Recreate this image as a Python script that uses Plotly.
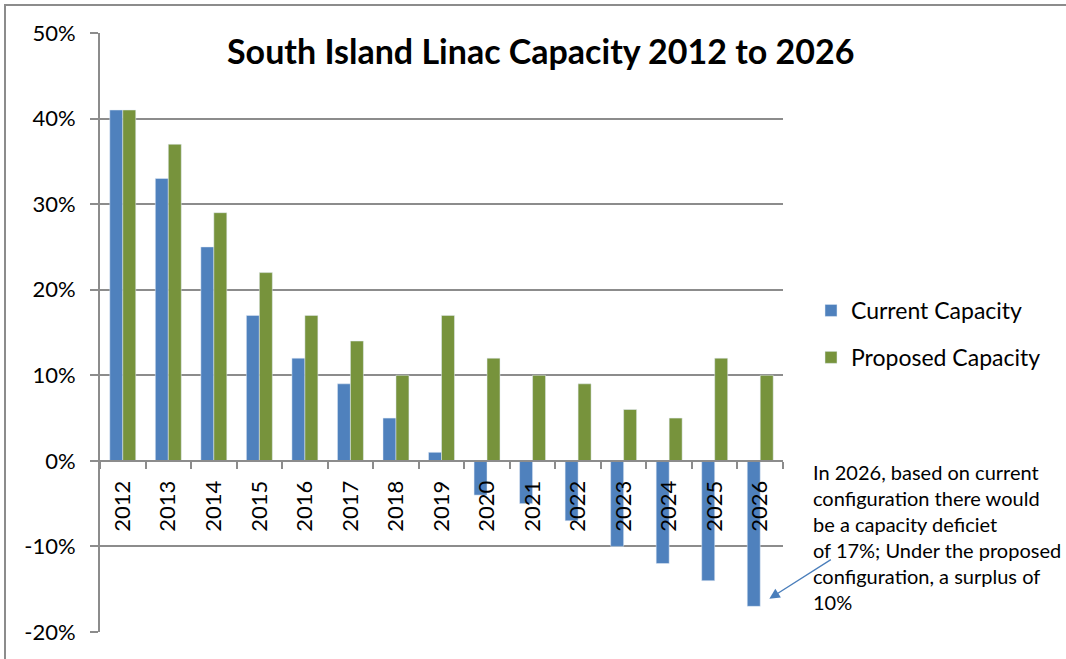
import plotly.graph_objects as go

years = ["2012", "2013", "2014", "2015", "2016", "2017", "2018", "2019",
         "2020", "2021", "2022", "2023", "2024", "2025", "2026"]
current = [41, 33, 25, 17, 12, 9, 5, 1, -4, -5, -7, -10, -12, -14, -17]
proposed = [41, 37, 29, 22, 17, 14, 10, 17, 12, 10, 9, 6, 5, 12, 10]
series_names = ["Current Capacity", "Proposed Capacity"]
y_tick_vals = [-20, -10, 0, 10, 20, 30, 40, 50]
y_tick_text = ["-20%", "-10%", "0%", "10%", "20%", "30%", "40%", "50%"]
title_text = "South Island Linac Capacity 2012 to 2026"
note_lines = ["In 2026, based on current",
              "configuration there would",
              "be a capacity deficiet",
              "of 17%; Under the proposed",
              "configuration, a surplus of",
              "10%"]

BLUE = "#4F81BD"
GREEN = "#77933C"
GRID = "#8c8c8c"
FONT = "Lato, 'Open Sans', sans-serif"

W, H = 1066, 659
L, R, T, B = 100, 283, 33, 27
pw, ph = W - L - R, H - T - B
ymin, ymax = -20, 50

def px_x(x):
    return (x - L) / pw

def px_y(y):
    return (H - B - y) / ph

fig = go.Figure()
fig.add_trace(go.Bar(x=years, y=current, name=series_names[0],
                     marker_color=BLUE, legendgroup="a"))
fig.add_trace(go.Bar(x=years, y=proposed, name=series_names[1],
                     marker_color=GREEN, legendgroup="b"))

fig.update_layout(
    width=W, height=H,
    margin=dict(l=L, r=R, t=T, b=B, pad=0),
    paper_bgcolor="white", plot_bgcolor="white",
    barmode="group", bargap=0.43, bargroupgap=0,
    font=dict(family=FONT, color="black"),
    showlegend=True,
    legend=dict(x=px_x(811), y=px_y(289), xanchor="left", yanchor="top",
                font=dict(size=23, family=FONT), tracegroupgap=14,
                bgcolor="rgba(0,0,0,0)", traceorder="grouped"),
    xaxis=dict(type="category", anchor="free",
               range=[-0.5, len(years) - 0.5],
               position=(0 - ymin) / (ymax - ymin),
               showline=True, linecolor=GRID, linewidth=2,
               ticks="outside", ticklen=7, tickcolor=GRID, tickwidth=2,
               tickson="boundaries", tickangle=-90,
               tickfont=dict(size=22, family=FONT),
               ticklabelstandoff=10,
               showgrid=False, zeroline=False),
    yaxis=dict(range=[ymin, ymax], tickvals=y_tick_vals, ticktext=y_tick_text,
               showline=True, linecolor=GRID, linewidth=2,
               ticks="outside", ticklen=8, tickcolor=GRID, tickwidth=2,
               showgrid=True, gridcolor=GRID, gridwidth=2,
               zeroline=False, tickfont=dict(size=22, family=FONT),
               ticklabelstandoff=10),
)

# outer chart border
fig.add_shape(type="rect", xref="paper", yref="paper",
              x0=px_x(5), x1=px_x(1075), y0=px_y(668), y1=px_y(5),
              line=dict(color=GRID, width=2), fillcolor="rgba(0,0,0,0)")

# title
fig.add_annotation(xref="paper", yref="paper", x=px_x(540), y=px_y(51),
                   xanchor="center", yanchor="middle", showarrow=False,
                   text="<b>" + title_text + "</b>",
                   font=dict(size=34, family=FONT, color="black"))

# note text
fig.add_annotation(xref="paper", yref="paper", x=px_x(811), y=px_y(458),
                   xanchor="left", yanchor="top", showarrow=False, align="left",
                   text="<br>".join(note_lines),
                   font=dict(size=20, family=FONT, color="black"))

# arrow
fig.add_annotation(xref="x", yref="y", x=14.2, y=current[-1] + 0.9,
                   ax=63, ay=-40, text="", showarrow=True,
                   arrowhead=2, arrowsize=1.6, arrowwidth=1.3,
                   arrowcolor="#4A7EBB")

fig.write_html("out.html")
